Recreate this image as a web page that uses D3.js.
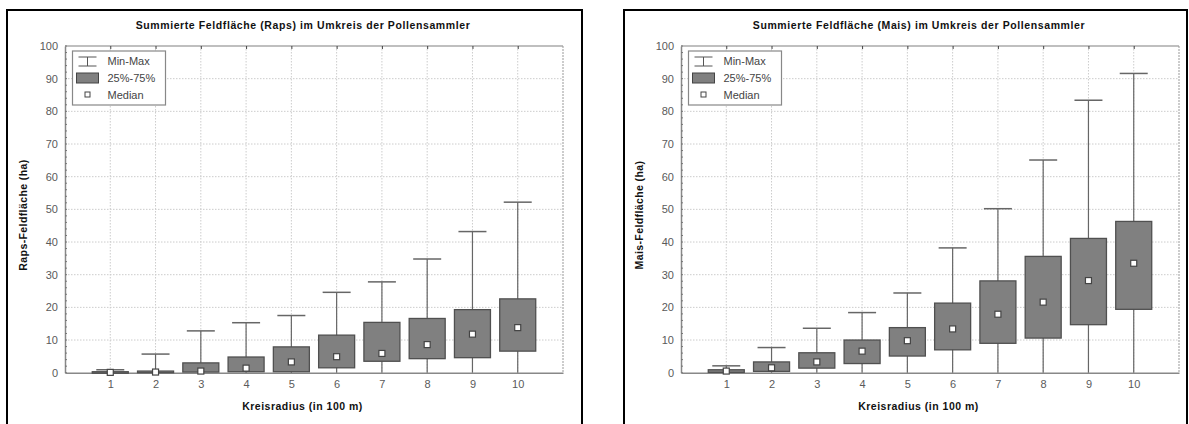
<!DOCTYPE html>
<html><head><meta charset="utf-8">
<script src="https://cdn.jsdelivr.net/npm/d3@7"></script>
<style>
body{margin:0;background:#fff;}
svg{display:block;font-family:"Liberation Sans",Arial,sans-serif;}
</style></head>
<body>
<svg id="chart" width="1189" height="424"></svg>
<script>
const categories = [1, 2, 3, 4, 5, 6, 7, 8, 9, 10];
const yTicks = [0, 10, 20, 30, 40, 50, 60, 70, 80, 90, 100];
const legendLabels = ["Min-Max", "25%-75%", "Median"];

const rapsMin    = [0, 0, 0, 0, 0, 0, 0, 0, 0, 0];
const rapsQ1     = [0, 0, 0.2, 0.3, 0.3, 1.5, 3.5, 4.3, 4.6, 6.6];
const rapsMedian = [0.1, 0.2, 0.5, 1.4, 3.3, 4.9, 5.9, 8.6, 11.8, 13.8];
const rapsQ3     = [0.3, 0.5, 3.0, 4.8, 7.9, 11.5, 15.4, 16.6, 19.3, 22.6];
const rapsMax    = [0.9, 5.7, 12.8, 15.3, 17.5, 24.6, 27.8, 34.8, 43.2, 52.2];

const maisMin    = [0, 0, 0, 0, 0, 0, 0, 0, 0, 0];
const maisQ1     = [0.1, 0.4, 1.4, 2.8, 5.1, 7.0, 9.0, 10.6, 14.7, 19.4];
const maisMedian = [0.5, 1.5, 3.3, 6.6, 9.8, 13.4, 17.9, 21.6, 28.2, 33.5];
const maisQ3     = [0.9, 3.3, 6.1, 10.0, 13.8, 21.3, 28.1, 35.6, 41.1, 46.3];
const maisMax    = [2.1, 7.7, 13.6, 18.4, 24.4, 38.2, 50.2, 65.1, 83.4, 91.6];

const panels = [
  {title: "Summierte Feldfläche (Raps) im Umkreis der Pollensammler", ylabel: "Raps-Feldfläche (ha)",
   xlabel: "Kreisradius (in 100 m)", frame: [7, 10, 582], plot: [65, 563],
   mn: rapsMin, q1: rapsQ1, md: rapsMedian, q3: rapsQ3, mx: rapsMax},
  {title: "Summierte Feldfläche (Mais) im Umkreis der Pollensammler", ylabel: "Mais-Feldfläche (ha)",
   xlabel: "Kreisradius (in 100 m)", frame: [624, 10, 1187], plot: [681, 1179],
   mn: maisMin, q1: maisQ1, md: maisMedian, q3: maisQ3, mx: maisMax}
];

const svg = d3.select("#chart");
const yTop = 46, yBot = 372.7;

panels.forEach(p => {
  const g = svg.append("g");
  // outer frame
  g.append("path")
    .attr("d", `M${p.frame[0]},430 V${p.frame[1]} H${p.frame[2]} V430`)
    .attr("fill", "none").attr("stroke", "#000").attr("stroke-width", 2);

  const x = d3.scaleLinear().domain([0, 11]).range(p.plot);
  const y = d3.scaleLinear().domain([0, 100]).range([yBot, yTop]);
  const xc = (p.plot[0] + p.plot[1]) / 2;

  // title
  g.append("text").attr("x", xc - 11).attr("y", 29).attr("text-anchor", "middle")
    .attr("font-size", 10.5).attr("letter-spacing", 0.6).attr("font-weight", "bold")
    .attr("fill", "#111").text(p.title);

  // grid
  g.append("g").selectAll("line").data(yTicks.slice(1, -1)).join("line")
    .attr("x1", p.plot[0]).attr("x2", p.plot[1]).attr("y1", d => y(d)).attr("y2", d => y(d))
    .attr("stroke", "#ccc").attr("stroke-dasharray", "1.5,1.5");
  g.append("g").selectAll("line").data(categories).join("line")
    .attr("x1", d => x(d)).attr("x2", d => x(d)).attr("y1", yTop).attr("y2", yBot)
    .attr("stroke", "#ccc").attr("stroke-dasharray", "1.5,1.5");

  // plot border: top and right
  g.append("line").attr("x1", p.plot[0]).attr("x2", p.plot[1]).attr("y1", yTop).attr("y2", yTop)
    .attr("stroke", "#aaa").attr("stroke-width", 1.5);
  g.append("line").attr("x1", p.plot[1]).attr("x2", p.plot[1]).attr("y1", yTop).attr("y2", yBot)
    .attr("stroke", "#999").attr("stroke-width", 1).attr("stroke-dasharray", "2,1");

  // top axis ticks
  const topAxis = d3.axisTop(x).tickValues(categories).tickSize(-3).tickFormat("");
  const gt = g.append("g").attr("transform", `translate(0,${yTop})`).call(topAxis);
  gt.select(".domain").remove();
  gt.selectAll(".tick line").attr("stroke", "#444");

  // left axis
  const leftAxis = d3.axisLeft(y).tickValues(yTicks).tickSize(0).tickPadding(7);
  const gl = g.append("g").attr("transform", `translate(${p.plot[0]},0)`).call(leftAxis);
  gl.select(".domain").attr("stroke", "#888").attr("stroke-width", 1.5);
  gl.selectAll(".tick text").attr("font-size", 11).attr("fill", "#5a5a5a")
    .attr("font-family", "'Liberation Sans',Arial,sans-serif");
  // minor ticks
  const minor = d3.range(0, 101, 2);
  g.append("g").selectAll("line").data(minor).join("line")
    .attr("x1", p.plot[0]).attr("x2", p.plot[0] + 2).attr("y1", d => y(d)).attr("y2", d => y(d))
    .attr("stroke", "#777");

  // bottom axis
  const botAxis = d3.axisBottom(x).tickValues(categories).tickSize(0).tickPadding(8);
  const gb = g.append("g").attr("transform", `translate(0,${yBot})`).call(botAxis);
  gb.select(".domain").attr("stroke", "#888").attr("stroke-width", 1.5);
  gb.selectAll(".tick text").attr("font-size", 11).attr("fill", "#5a5a5a")
    .attr("font-family", "'Liberation Sans',Arial,sans-serif");

  // axis labels
  g.append("text").attr("x", xc - 11.5).attr("y", 410).attr("text-anchor", "middle")
    .attr("font-size", 10.5).attr("letter-spacing", 0.5).attr("font-weight", "bold")
    .attr("fill", "#111").text(p.xlabel);
  g.append("text").attr("transform", `translate(${p.plot[0] - 38},${215}) rotate(-90)`)
    .attr("text-anchor", "middle").attr("font-size", 10.5).attr("letter-spacing", 0.4)
    .attr("font-weight", "bold").attr("fill", "#111").text(p.ylabel);

  // boxes
  const bw = 36, cw = 28;
  const gbx = g.append("g");
  categories.forEach((c, i) => {
    const cx = x(c);
    gbx.append("line").attr("x1", cx).attr("x2", cx).attr("y1", y(p.mn[i])).attr("y2", y(p.mx[i]))
      .attr("stroke", "#666").attr("stroke-width", 1.2);
    gbx.append("line").attr("x1", cx - cw / 2).attr("x2", cx + cw / 2).attr("y1", y(p.mx[i])).attr("y2", y(p.mx[i]))
      .attr("stroke", "#666").attr("stroke-width", 1.5);
    gbx.append("rect").attr("x", cx - bw / 2).attr("width", bw)
      .attr("y", y(p.q3[i])).attr("height", Math.max(1.5, y(p.q1[i]) - y(p.q3[i])))
      .attr("fill", "#808080").attr("stroke", "#505050").attr("stroke-width", 1.3);
    gbx.append("rect").attr("x", cx - 3).attr("y", y(p.md[i]) - 3).attr("width", 6).attr("height", 6)
      .attr("fill", "#fff").attr("stroke", "#444").attr("stroke-width", 1.2);
  });

  // legend
  const lx = p.plot[0] + 7.5, ly = 51;
  const lg = g.append("g");
  lg.append("rect").attr("x", lx).attr("y", ly).attr("width", 93).attr("height", 54)
    .attr("fill", "#fff").attr("stroke", "#888").attr("stroke-width", 1.2);
  const sx = lx + 15;
  lg.append("path").attr("d", `M${sx - 9},${ly + 6} H${sx + 9} M${sx},${ly + 6} V${ly + 15} M${sx - 9},${ly + 15} H${sx + 9}`)
    .attr("stroke", "#555").attr("fill", "none");
  lg.append("rect").attr("x", sx - 11).attr("y", ly + 22).attr("width", 22).attr("height", 10)
    .attr("fill", "#808080").attr("stroke", "#444");
  lg.append("rect").attr("x", sx - 2.5).attr("y", ly + 41).attr("width", 5).attr("height", 5)
    .attr("fill", "#fff").attr("stroke", "#444");
  legendLabels.forEach((t, i) => {
    lg.append("text").attr("x", lx + 35).attr("y", ly + 14 + i * 17).attr("font-size", 11)
      .attr("fill", "#444").text(t);
  });
});
</script>
</body></html>
